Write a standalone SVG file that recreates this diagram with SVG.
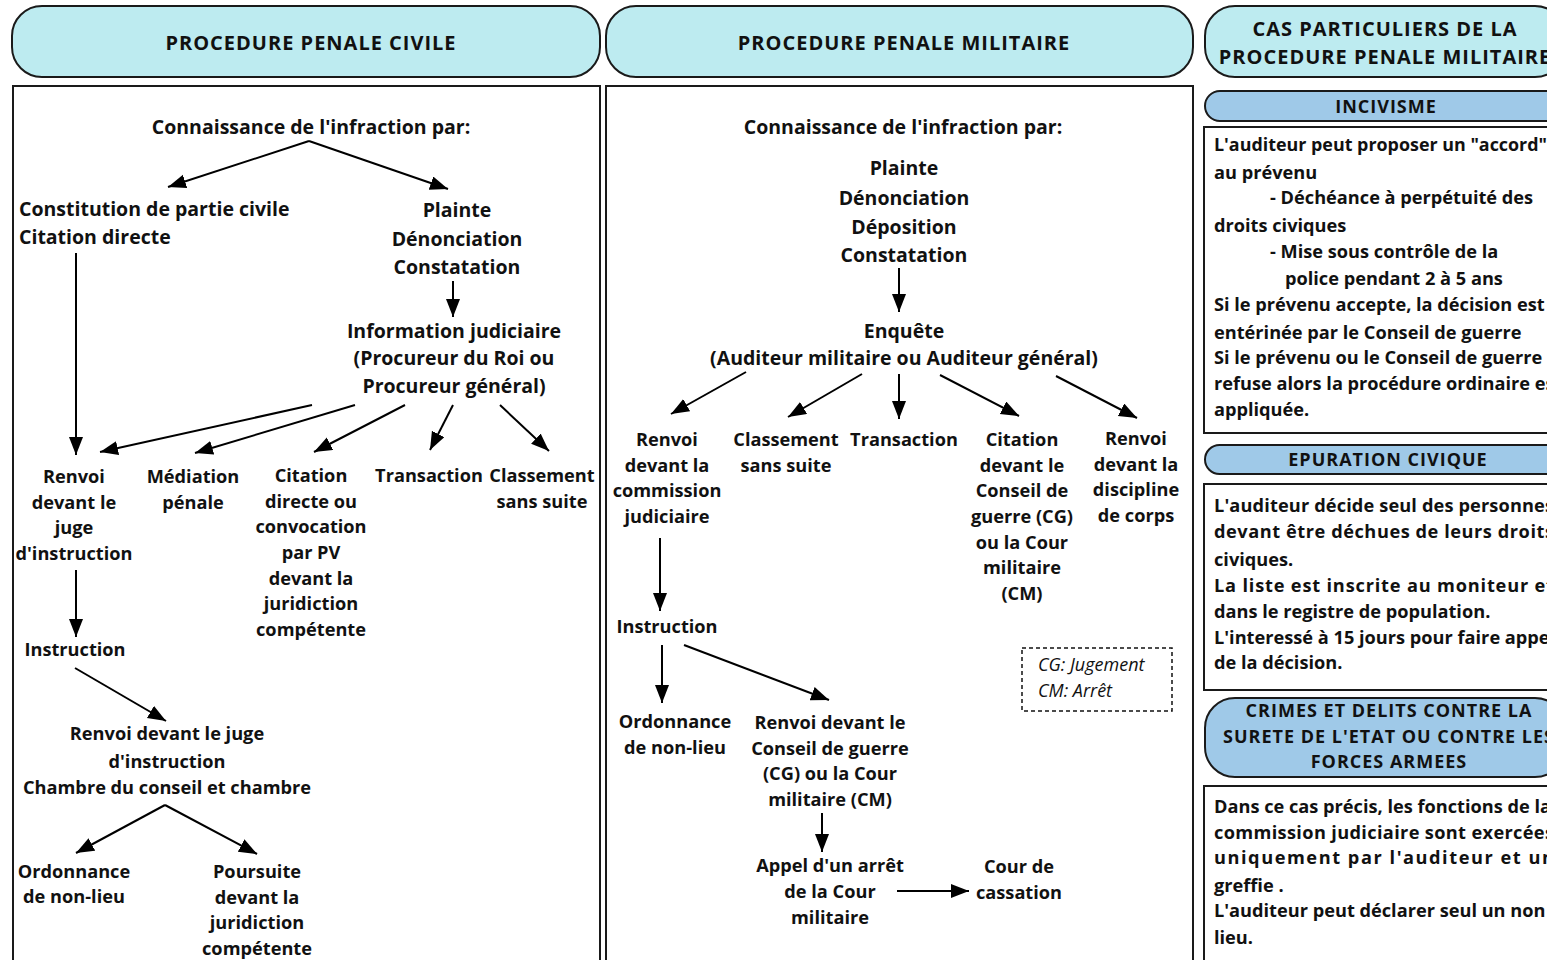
<svg xmlns="http://www.w3.org/2000/svg" width="1547" height="960" viewBox="0 0 1547 960">
<defs>
<marker id="ah" markerUnits="userSpaceOnUse" markerWidth="20" markerHeight="16" refX="18" refY="7" orient="auto">
<path d="M0,0 L18,7 L0,14 z" fill="#000"/>
</marker>
<style>
.hdr{fill:#bdebf0;stroke:#1a1a1a;stroke-width:2}
.pill{fill:#9fc9e8;stroke:#1a1a1a;stroke-width:2}
.panel{fill:#fff;stroke:#1a1a1a;stroke-width:2}
.t{font-family:"Open Sans","Liberation Sans",sans-serif;font-weight:bold;font-size:19.5px;fill:#111;text-anchor:middle;dominant-baseline:central}
.s{font-family:"Open Sans","Liberation Sans",sans-serif;font-weight:bold;font-size:18.2px;fill:#111;text-anchor:middle;dominant-baseline:central}
.tl{font-family:"Open Sans","Liberation Sans",sans-serif;font-weight:bold;font-size:18.2px;fill:#111;dominant-baseline:central}
.h{font-family:"Open Sans","Liberation Sans",sans-serif;font-weight:bold;font-size:20px;fill:#111;text-anchor:middle;dominant-baseline:central;letter-spacing:1px}
.hs{font-family:"Open Sans","Liberation Sans",sans-serif;font-weight:bold;font-size:18px;fill:#111;text-anchor:middle;dominant-baseline:central;letter-spacing:1px}
.it{font-family:"Open Sans","Liberation Sans",sans-serif;font-style:italic;font-size:18px;fill:#111;dominant-baseline:central}
.c line{stroke:#000;stroke-width:2;marker-end:url(#ah)}
</style>
</defs>

<g id="header-civile">
<rect class="hdr" x="12" y="6" width="588" height="71" rx="30"/>
<text class="h" x="311" y="42">PROCEDURE PENALE CIVILE</text>
</g>
<g id="header-militaire">
<rect class="hdr" x="606" y="6" width="587" height="71" rx="30"/>
<text class="h" x="904" y="42">PROCEDURE PENALE MILITAIRE</text>
</g>
<g id="header-cas">
<rect class="hdr" x="1205" y="6" width="360" height="71" rx="30"/>
<text class="h" x="1385" y="28">CAS PARTICULIERS DE LA</text>
<text class="h" x="1385" y="56">PROCEDURE PENALE MILITAIRE</text>
</g>

<g id="panel-civile"><rect class="panel" x="13" y="86" width="587" height="900"/></g>
<g id="panel-militaire"><rect class="panel" x="606" y="86" width="587" height="900"/></g>

<!-- Civile nodes -->
<g id="c-connaissance"><text class="t" x="311" y="126">Connaissance de l'infraction par:</text></g>
<g id="c-constitution">
<text class="tl" style="font-size:19.5px" x="19" y="208">Constitution de partie civile</text>
<text class="tl" style="font-size:19.5px" x="19" y="236">Citation directe</text>
</g>
<g id="c-plainte">
<text class="t" x="457" y="209">Plainte</text>
<text class="t" x="457" y="238">Dénonciation</text>
<text class="t" x="457" y="266">Constatation</text>
</g>
<g id="c-information">
<text class="t" x="454" y="330">Information judiciaire</text>
<text class="t" x="454" y="357">(Procureur du Roi ou</text>
<text class="t" x="454" y="385">Procureur général)</text>
</g>
<g id="c-renvoi">
<text class="s" x="74" y="476">Renvoi</text>
<text class="s" x="74" y="502">devant le</text>
<text class="s" x="74" y="527">juge</text>
<text class="s" x="74" y="553">d'instruction</text>
</g>
<g id="c-mediation">
<text class="s" x="193" y="476">Médiation</text>
<text class="s" x="193" y="502">pénale</text>
</g>
<g id="c-citation">
<text class="s" x="311" y="475">Citation</text>
<text class="s" x="311" y="501">directe ou</text>
<text class="s" x="311" y="526">convocation</text>
<text class="s" x="311" y="552">par PV</text>
<text class="s" x="311" y="578">devant la</text>
<text class="s" x="311" y="603">juridiction</text>
<text class="s" x="311" y="629">compétente</text>
</g>
<g id="c-transaction"><text class="s" x="429" y="475">Transaction</text></g>
<g id="c-classement">
<text class="s" x="542" y="475">Classement</text>
<text class="s" x="542" y="501">sans suite</text>
</g>
<g id="c-instruction"><text class="s" x="75" y="649">Instruction</text></g>
<g id="c-renvoi-juge">
<text class="s" x="167" y="733">Renvoi devant le juge</text>
<text class="s" x="167" y="761">d'instruction</text>
<text class="s" x="167" y="787">Chambre du conseil et chambre</text>
</g>
<g id="c-ordonnance">
<text class="s" x="74" y="871">Ordonnance</text>
<text class="s" x="74" y="896">de non-lieu</text>
</g>
<g id="c-poursuite">
<text class="s" x="257" y="871">Poursuite</text>
<text class="s" x="257" y="897">devant la</text>
<text class="s" x="257" y="922">juridiction</text>
<text class="s" x="257" y="948">compétente</text>
</g>

<!-- Militaire nodes -->
<g id="m-connaissance"><text class="t" x="903" y="126">Connaissance de l'infraction par:</text></g>
<g id="m-plainte">
<text class="t" x="904" y="167">Plainte</text>
<text class="t" x="904" y="197">Dénonciation</text>
<text class="t" x="904" y="226">Déposition</text>
<text class="t" x="904" y="254">Constatation</text>
</g>
<g id="m-enquete">
<text class="t" x="904" y="330">Enquête</text>
<text class="t" x="904" y="357">(Auditeur militaire ou Auditeur général)</text>
</g>
<g id="m-renvoi-commission">
<text class="s" x="667" y="439">Renvoi</text>
<text class="s" x="667" y="465">devant la</text>
<text class="s" x="667" y="490">commission</text>
<text class="s" x="667" y="516">judiciaire</text>
</g>
<g id="m-classement">
<text class="s" x="786" y="439">Classement</text>
<text class="s" x="786" y="465">sans suite</text>
</g>
<g id="m-transaction"><text class="s" x="904" y="439">Transaction</text></g>
<g id="m-citation">
<text class="s" x="1022" y="439">Citation</text>
<text class="s" x="1022" y="465">devant le</text>
<text class="s" x="1022" y="490">Conseil de</text>
<text class="s" x="1022" y="516">guerre (CG)</text>
<text class="s" x="1022" y="542">ou la Cour</text>
<text class="s" x="1022" y="567">militaire</text>
<text class="s" x="1022" y="593">(CM)</text>
</g>
<g id="m-discipline">
<text class="s" x="1136" y="438">Renvoi</text>
<text class="s" x="1136" y="464">devant la</text>
<text class="s" x="1136" y="489">discipline</text>
<text class="s" x="1136" y="515">de corps</text>
</g>
<g id="m-instruction"><text class="s" x="667" y="626">Instruction</text></g>
<g id="m-ordonnance">
<text class="s" x="675" y="721">Ordonnance</text>
<text class="s" x="675" y="747">de non-lieu</text>
</g>
<g id="m-renvoi-cg">
<text class="s" x="830" y="722">Renvoi devant le</text>
<text class="s" x="830" y="748">Conseil de guerre</text>
<text class="s" x="830" y="773">(CG) ou la Cour</text>
<text class="s" x="830" y="799">militaire (CM)</text>
</g>
<g id="m-appel">
<text class="s" x="830" y="865">Appel d'un arrêt</text>
<text class="s" x="830" y="891">de la Cour</text>
<text class="s" x="830" y="917">militaire</text>
</g>
<g id="m-cassation">
<text class="s" x="1019" y="866">Cour de</text>
<text class="s" x="1019" y="892">cassation</text>
</g>
<g id="m-legende">
<rect x="1022" y="648" width="150" height="63" fill="none" stroke="#111" stroke-width="1.5" stroke-dasharray="4,3"/>
<text class="it" x="1038" y="664">CG: Jugement</text>
<text class="it" x="1038" y="690">CM: Arrêt</text>
</g>

<!-- Right column -->
<g id="incivisme">
<rect class="pill" x="1205" y="91" width="360" height="30" rx="15"/>
<text class="hs" x="1386" y="106">INCIVISME</text>
<rect class="panel" x="1204" y="127" width="360" height="306"/>
<text class="tl" x="1214" y="144" textLength="333" lengthAdjust="spacingAndGlyphs">L'auditeur peut proposer un "accord"</text>
<text class="tl" x="1214" y="172">au prévenu</text>
<text class="tl" x="1270" y="197">- Déchéance à perpétuité des</text>
<text class="tl" x="1214" y="225">droits civiques</text>
<text class="tl" x="1270" y="251">- Mise sous contrôle de la</text>
<text class="tl" x="1285" y="278">police pendant 2 à 5 ans</text>
<text class="tl" x="1214" y="304">Si le prévenu accepte, la décision est</text>
<text class="tl" x="1214" y="332">entérinée par le Conseil de guerre</text>
<text class="tl" x="1214" y="357">Si le prévenu ou le Conseil de guerre</text>
<text class="tl" x="1214" y="383">refuse alors la procédure ordinaire est</text>
<text class="tl" x="1214" y="409">appliquée.</text>
</g>
<g id="epuration">
<rect class="pill" x="1205" y="445" width="360" height="29" rx="14.5"/>
<text class="hs" x="1388" y="459">EPURATION CIVIQUE</text>
<rect class="panel" x="1204" y="484" width="360" height="206"/>
<text class="tl" x="1214" y="505" textLength="340" lengthAdjust="spacing">L'auditeur décide seul des personnes</text>
<text class="tl" x="1214" y="531" textLength="340" lengthAdjust="spacing">devant être déchues de leurs droits</text>
<text class="tl" x="1214" y="559">civiques.</text>
<text class="tl" x="1214" y="585" textLength="340" lengthAdjust="spacing">La liste est inscrite au moniteur et</text>
<text class="tl" x="1214" y="611">dans le registre de population.</text>
<text class="tl" x="1214" y="637">L'interessé à 15 jours pour faire appel</text>
<text class="tl" x="1214" y="662">de la décision.</text>
</g>
<g id="crimes">
<rect class="pill" x="1205" y="698" width="360" height="79" rx="30"/>
<text class="hs" x="1389" y="710">CRIMES ET DELITS CONTRE LA</text>
<text class="hs" x="1389" y="736">SURETE DE L'ETAT OU CONTRE LES</text>
<text class="hs" x="1389" y="761">FORCES ARMEES</text>
<rect class="panel" x="1204" y="786" width="360" height="200"/>
<text class="tl" x="1214" y="806">Dans ce cas précis, les fonctions de la</text>
<text class="tl" x="1214" y="832" textLength="340" lengthAdjust="spacing">commission judiciaire sont exercées</text>
<text class="tl" x="1214" y="857" textLength="340" lengthAdjust="spacing">uniquement par l'auditeur et un</text>
<text class="tl" x="1214" y="885">greffie .</text>
<text class="tl" x="1214" y="910">L'auditeur peut déclarer seul un non</text>
<text class="tl" x="1214" y="937">lieu.</text>
</g>

<g id="connectors" class="c">
<line x1="309" y1="141" x2="168" y2="187"/>
<line x1="309" y1="141" x2="448" y2="189"/>
<line x1="453" y1="281" x2="453" y2="317"/>
<line x1="76" y1="253" x2="76" y2="455"/>
<line x1="312" y1="405" x2="100" y2="452"/>
<line x1="355" y1="405" x2="195" y2="453"/>
<line x1="405" y1="405" x2="314" y2="452"/>
<line x1="453" y1="405" x2="430" y2="450"/>
<line x1="500" y1="405" x2="549" y2="451"/>
<line x1="76" y1="570" x2="76" y2="637"/>
<line x1="75" y1="668" x2="166" y2="721"/>
<line x1="165" y1="805" x2="76" y2="853"/>
<line x1="165" y1="805" x2="257" y2="854"/>

<line x1="899" y1="268" x2="899" y2="312"/>
<line x1="746" y1="372" x2="671" y2="414"/>
<line x1="862" y1="374" x2="788" y2="417"/>
<line x1="899" y1="374" x2="899" y2="419"/>
<line x1="940" y1="375" x2="1019" y2="416"/>
<line x1="1056" y1="376" x2="1137" y2="418"/>
<line x1="660" y1="538" x2="660" y2="611"/>
<line x1="662" y1="645" x2="662" y2="703"/>
<line x1="684" y1="645" x2="829" y2="700"/>
<line x1="822" y1="813" x2="822" y2="852"/>
<line x1="897" y1="891" x2="969" y2="891"/>
</g>
</svg>
